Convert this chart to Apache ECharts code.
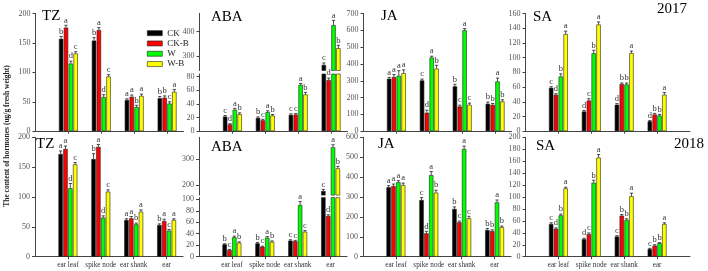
<!DOCTYPE html>
<html><head><meta charset="utf-8">
<script src="https://cdn.jsdelivr.net/npm/echarts@6/dist/echarts.min.js"></script>
<style>html,body{margin:0;padding:0;background:#fff}#c{width:708px;height:271px}</style>
</head><body><div id="c"></div>
<script>
// ---------------- DATA ----------------
const categories = ['ear leaf', 'spike node', 'ear shank', 'ear'];
const treatments = ['CK', 'CK-B', 'W', 'W-B'];

// rows: CK, CK-B, W, W-B ; columns: categories
const tz2017 = [[157, 154, 53, 56], [176, 172, 58.5, 57], [115, 58, 41, 47], [132, 93, 60, 67]];
const tz2017Err = [[4, 5, 2, 3], [4, 4, 3, 3], [4, 4, 3, 3], [3, 3, 3, 4]];
const tz2017Let = [['b', 'b', 'a', 'b'], ['a', 'a', 'a', 'b'], ['d', 'd', 'b', 'c'], ['c', 'c', 'a', 'a']];

const aba2017 = [[21.5, 19.5, 24, 263], [10, 16, 24.5, 75], [31.5, 28, 68, 427], [25, 23, 54, 332]];
const aba2017Err = [[1.5, 1.5, 1.5, 8], [1, 1.5, 1.5, 3], [2, 2, 2, 20], [2, 1.5, 3, 12]];
const aba2017Let = [['c', 'b', 'c', 'c'], ['d', 'c', 'c', 'd'], ['a', 'a', 'a', 'a'], ['b', 'b', 'b', 'b']];

const ja2017 = [[312, 302, 267, 163], [322, 110, 147, 157], [330, 438, 600, 296], [345, 372, 157, 177]];
const ja2017Err = [[8, 8, 12, 10], [15, 15, 8, 8], [30, 8, 10, 20], [20, 20, 10, 10]];
const ja2017Let = [['a', 'c', 'b', 'b'], ['a', 'd', 'c', 'b'], ['a', 'a', 'a', 'a'], ['a', 'b', 'c', 'b']];

const sa2017 = [[59, 26.8, 36, 13.6], [49.5, 41.7, 64, 22.7], [74.4, 106, 63.5, 21.3], [132, 145, 106, 49.5]];
const sa2017Err = [[1.5, 1.5, 1.5, 1], [1.5, 2.5, 1.5, 1.5], [3.5, 4, 2, 1.5], [4, 3.5, 3, 3]];
const sa2017Let = [['c', 'd', 'd', 'd'], ['d', 'c', 'b', 'b'], ['b', 'b', 'b', 'b'], ['a', 'a', 'a', 'a']];

const tz2018 = [[172, 163.6, 61.5, 53], [180.4, 184, 64.3, 59.8], [114.6, 65.4, 54.2, 43.6], [154.7, 109, 75.4, 61.5]];
const tz2018Err = [[5, 9, 2, 2], [5, 4, 3, 3], [8, 3, 2, 2], [3, 3, 3, 2]];
const tz2018Let = [['a', 'b', 'a', 'b'], ['a', 'a', 'a', 'a'], ['d', 'd', 'b', 'c'], ['c', 'c', 'a', 'a']];

const aba2018 = [[21.6, 23.3, 28, 177], [11.7, 17.4, 27, 71], [33.8, 33, 90, 347], [24.4, 26, 43.5, 265]];
const aba2018Err = [[1, 1.5, 1.5, 6], [1, 1, 1.5, 2], [2, 2, 6, 10], [1.5, 1.5, 2, 8]];
const aba2018Let = [['b', 'b', 'c', 'c'], ['c', 'c', 'c', 'd'], ['a', 'a', 'a', 'a'], ['b', 'b', 'c', 'b']];

const ja2018 = [[349, 285, 240, 134], [355, 117.6, 173, 129], [374, 410, 541, 273], [360, 322, 193, 148]];
const ja2018Err = [[8, 12, 10, 8], [10, 10, 6, 6], [8, 18, 15, 12], [10, 12, 10, 6]];
const ja2018Let = [['a', 'c', 'b', 'b'], ['a', 'd', 'c', 'b'], ['a', 'a', 'a', 'a'], ['a', 'b', 'c', 'b']];

const sa2018 = [[54.8, 29.4, 33.8, 13], [46.8, 37.8, 68.8, 18.6], [69.3, 124, 61.5, 22.6], [114.4, 166, 101.4, 54.8]];
const sa2018Err = [[2, 1.5, 1.5, 1], [1.5, 2, 2, 1.5], [2, 4, 2, 1], [2, 5, 5, 2]];
const sa2018Let = [['c', 'd', 'c', 'c'], ['d', 'c', 'b', 'b'], ['b', 'b', 'b', 'b'], ['a', 'a', 'a', 'a']];

// tick labels
const tzTicks = [0, 50, 100, 150, 200];
const aba2017LowTicks = [0, 20, 40, 60, 80];
const aba2017HighTicks = [300, 400];
const aba2018LowTicks = [0, 20, 40, 60, 80, 100];
const aba2018HighTicks = [200, 300];
const ja2017Ticks = [0, 100, 200, 300, 400, 500, 600, 700];
const ja2018Ticks = [0, 100, 200, 300, 400, 500, 600];
const sa2017Ticks = [0, 20, 40, 60, 80, 100, 120, 140, 160];
const sa2018Ticks = [0, 20, 40, 60, 80, 100, 120, 140, 160, 180, 200];
const catPos = [1, 2, 3, 4];

// ---------------- STYLE / LAYOUT ----------------
const colors = ['#000000', '#ff0000', '#00ff00', '#ffff00'];
const SERIF = '"Liberation Serif", "Times New Roman", serif';
const UNIT = 32.9;
const BW = 4.4, GAP = 0.1;

const panels = [
  { title: 'TZ', vals: tz2017, errs: tz2017Err, lets: tz2017Let, left: 35.5, xmax: 4.5, row: 0, tx: 42, ty: 9,
    segs: [{ top: 13.5, h: 117.7, min: 0, max: 200, ticks: tzTicks, base: true }] },
  { title: 'ABA', vals: aba2017, errs: aba2017Err, lets: aba2017Let, left: 199.5, xmax: 4.5, row: 0, tx: 211, ty: 10,
    segs: [{ top: 13.3, h: 57.2, min: 240, max: 476, ticks: aba2017HighTicks, base: false },
           { top: 74, h: 57.2, min: 0, max: 84, ticks: aba2017LowTicks, base: true }] },
  { title: 'JA', vals: ja2017, errs: ja2017Err, lets: ja2017Let, left: 363.5, xmax: 4.5, row: 0, tx: 381, ty: 9,
    segs: [{ top: 13.5, h: 117.7, min: 0, max: 700, ticks: ja2017Ticks, base: true }] },
  { title: 'SA', vals: sa2017, errs: sa2017Err, lets: sa2017Let, left: 525.5, xmax: 5, row: 0, tx: 533, ty: 10,
    segs: [{ top: 13.5, h: 117.7, min: 0, max: 160, ticks: sa2017Ticks, base: true }] },
  { title: 'TZ', vals: tz2018, errs: tz2018Err, lets: tz2018Let, left: 35, xmax: 4.5, row: 1, tx: 36, ty: 137,
    segs: [{ top: 137.3, h: 119.4, min: 0, max: 200, ticks: tzTicks, base: true }] },
  { title: 'ABA', vals: aba2018, errs: aba2018Err, lets: aba2018Let, left: 199, xmax: 4.5, row: 1, tx: 211, ty: 140,
    segs: [{ top: 137.3, h: 57.8, min: 161, max: 386, ticks: aba2018HighTicks, base: false },
           { top: 197.6, h: 59.1, min: 0, max: 103, ticks: aba2018LowTicks, base: true }] },
  { title: 'JA', vals: ja2018, errs: ja2018Err, lets: ja2018Let, left: 363, xmax: 4.5, row: 1, tx: 378, ty: 137,
    segs: [{ top: 137.3, h: 119.4, min: 0, max: 600, ticks: ja2018Ticks, base: true }] },
  { title: 'SA', vals: sa2018, errs: sa2018Err, lets: sa2018Let, left: 525.5, xmax: 5, row: 1, tx: 536, ty: 139,
    segs: [{ top: 137.3, h: 119.4, min: 0, max: 200, ticks: sa2018Ticks, base: true }] }
];

function makeErr(ti, letters) {
  const step = BW * (1 + GAP);
  const off = (ti - 1.5) * step;
  return function (params, api) {
    const x = api.value(0), v = api.value(1), e = api.value(2);
    const p0 = api.coord([x, v]);
    const p1 = api.coord([x, v + e]);
    const cx = p0[0] + off;
    return {
      type: 'group', children: [
        { type: 'line', shape: { x1: cx, y1: p0[1], x2: cx, y2: p1[1] }, style: { stroke: '#222', lineWidth: 0.8 } },
        { type: 'line', shape: { x1: cx - 1.6, y1: p1[1], x2: cx + 1.6, y2: p1[1] }, style: { stroke: '#222', lineWidth: 0.8 } },
        { type: 'text', x: cx, y: p1[1] - 0.5, style: { text: letters[Math.round(x) - 1], align: 'center', verticalAlign: 'bottom', font: '8.5px ' + SERIF, fill: '#333' } }
      ]
    };
  };
}

const option = {
  animation: false,
  backgroundColor: '#ffffff',
  title: [],
  legend: {
    data: treatments, orient: 'vertical', left: 147, top: 28, padding: 0, itemGap: 0,
    itemWidth: 15, itemHeight: 5, icon: 'rect',
    itemStyle: { borderColor: '#222', borderWidth: 0.6 },
    textStyle: { fontFamily: SERIF, fontSize: 9, color: '#222', lineHeight: 10.3 }
  },
  grid: [], xAxis: [], yAxis: [], series: [],
  graphic: [
    { type: 'text', x: 7.5, y: 136, rotation: Math.PI / 2,
      style: { text: 'The content of hormones (ug/g fresh weight)', align: 'center', verticalAlign: 'middle',
               font: 'bold 7.5px ' + SERIF, fill: '#222' } }
  ]
};

option.title.push({ text: '2017', left: 657, top: 2, padding: 0, textStyle: { fontFamily: SERIF, fontSize: 15, fontWeight: 'normal', color: '#000' } });
option.title.push({ text: '2018', left: 674, top: 137, padding: 0, textStyle: { fontFamily: SERIF, fontSize: 15, fontWeight: 'normal', color: '#000' } });

let gi = 0;
panels.forEach(p => {
  option.title.push({ text: p.title, left: p.tx, top: p.ty, padding: 0,
    textStyle: { fontFamily: SERIF, fontSize: 15, fontWeight: 'normal', color: '#000' } });
  p.segs.forEach(s => {
    option.grid.push({ left: p.left, top: s.top, width: p.xmax * UNIT, height: s.h });
    option.xAxis.push({
      gridIndex: gi, type: 'value', min: 0, max: p.xmax, show: s.base,
      axisLine: { show: true, onZero: false, lineStyle: { color: '#444', width: 1 } },
      axisTick: { show: true, length: 2.5, customValues: catPos, lineStyle: { color: '#444' } },
      axisLabel: { show: p.row === 1, customValues: catPos, margin: 5, hideOverlap: false,
        formatter: v => categories[Math.round(v) - 1] || '',
        fontFamily: SERIF, fontSize: 7.2, color: '#333' },
      splitLine: { show: false }
    });
    option.yAxis.push({
      gridIndex: gi, type: 'value', min: s.min, max: s.max,
      axisLine: { show: true, onZero: false, lineStyle: { color: '#444', width: 1 } },
      axisTick: { show: true, length: 3, customValues: s.ticks, lineStyle: { color: '#444' } },
      axisLabel: { customValues: s.ticks, margin: 5, fontFamily: SERIF, fontSize: 8, color: '#555' },
      splitLine: { show: false }
    });
    treatments.forEach((t, ti) => {
      option.series.push({
        type: 'bar', name: t, xAxisIndex: gi, yAxisIndex: gi, barWidth: BW, barGap: (GAP * 100) + '%', clip: true,
        itemStyle: { color: colors[ti], borderColor: '#222', borderWidth: 0.6 },
        data: p.vals[ti].map((v, ci) => [catPos[ci], v])
      });
    });
    treatments.forEach((t, ti) => {
      const data = [];
      p.vals[ti].forEach((v, ci) => {
        if (v > s.min && v < s.max) data.push([catPos[ci], v, p.errs[ti][ci]]);
      });
      option.series.push({
        type: 'custom', xAxisIndex: gi, yAxisIndex: gi, silent: true, z: 5,
        renderItem: makeErr(ti, p.lets[ti]), data: data
      });
    });
    gi++;
  });
});

const chart = echarts.init(document.getElementById('c'), null, { renderer: 'canvas' });
chart.setOption(option);
</script>
</body></html>
